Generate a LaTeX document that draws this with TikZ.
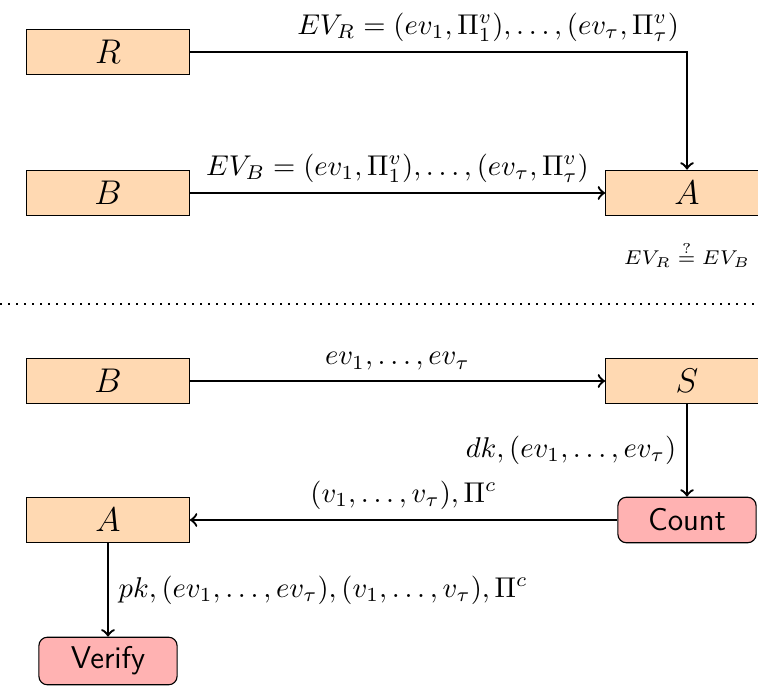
\documentclass[tikz,border=0pt]{standalone}
\usepackage{amsmath}
\usetikzlibrary{positioning}

\tikzset{
party/.style={draw,fill=orange!30,minimum width=2cm,minimum height=0.56cm,font=\large},
algo/.style={draw,fill=red!30,rounded corners=3pt,minimum width=1.7cm,minimum height=0.56cm,font=\sffamily\fontsize{11}{13}\selectfont},
msg/.style={thick,->},
}

\begin{document}
\begin{tikzpicture}[x=0.0123cm,y=-0.0123cm]
\useasboundingbox (0,0) rectangle (758,686);
\clip (0,0) rectangle (758,686);
% first phase
\node[party] (R) at (108,52) {$R$};
\node[party] (B) at (108,193) {$B$};
\node[party] (A) at (687,193) {$A$};
\draw[msg] (R) -| node[pos=0.3,above] {$EV_R = (ev_1,\Pi^v_1),\ldots,(ev_\tau,\Pi^v_\tau)$} (A);
\draw[msg] (B) -- node[above] {$EV_B = (ev_1,\Pi^v_1),\ldots,(ev_\tau,\Pi^v_\tau)$} (A);
\node[below=0.17cm of A,font=\scriptsize] (check) {$EV_R \overset{?}{=} EV_B$};
\draw[dotted,thick] (0,304) -- (758,304);
% second phase
\node[party] (B2) at (108,381) {$B$};
\node[party] (S) at (687,381) {$S$};
\node[algo] (count) at (687,520) {Count};
\node[party] (A2) at (108,520) {$A$};
\node[algo] (verify) at (108,661) {Verify};
\draw[msg] (B2) -- node[above] {$ev_1,\ldots,ev_\tau$} (S);
\draw[msg] (S) -- node[left] {$dk,(ev_1,\ldots,ev_\tau)$} (count);
\draw[msg] (count) -- node[above] {$(v_1,\ldots,v_\tau),\Pi^c$} (A2);
\draw[msg] (A2) -- node[right] {$pk,(ev_1,\ldots,ev_\tau),(v_1,\ldots,v_\tau),\Pi^c$} (verify);
\end{tikzpicture}
\end{document}
